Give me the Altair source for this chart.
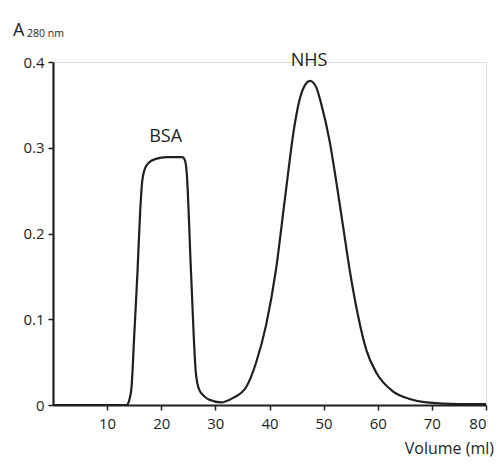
import altair as alt
import pandas as pd

volume = [0, 13.6, 14.1, 14.5, 15.0, 15.6, 16.1, 16.5, 17.0, 17.8, 19.0, 21.0, 23.0, 23.9, 24.4,
          24.7, 25.5, 26.4, 27.0, 28.0, 28.9, 31.0, 33.2, 35.7, 37.5, 39.4, 41.2, 42.8, 44.6,
          45.4, 46.3, 47.5, 48.6, 49.6, 51.1, 52.3, 53.6, 54.8, 56.4, 57.9, 59.8, 62.8, 65.9,
          69.0, 75.0, 80.0]
absorb = [0, 0, 0.006, 0.02, 0.08, 0.154, 0.225, 0.262, 0.276, 0.283, 0.287, 0.289, 0.289, 0.289, 0.285,
          0.271, 0.155, 0.037, 0.018, 0.010, 0.006, 0.003, 0.008, 0.021, 0.049, 0.094, 0.158, 0.238, 0.325,
          0.352, 0.37, 0.378, 0.371, 0.35, 0.308, 0.262, 0.208, 0.158, 0.103, 0.064, 0.037, 0.016, 0.007,
          0.003, 0.001, 0.001]

peak_names = ["BSA", "NHS"]
peak_x = [20.8, 47.3]
peak_y = [0.313, 0.401]

x_ticks = [10, 20, 30, 40, 50, 60, 70, 80]
y_ticks = [0, 0.1, 0.2, 0.3, 0.4]

FONT = "Open Sans"
INK = "#231f20"

df = pd.DataFrame({"v": volume, "a": absorb})
lab = pd.DataFrame({"name": peak_names, "v": peak_x, "a": peak_y})

xs = alt.Scale(domain=[0, 80], nice=False)
ys = alt.Scale(domain=[0, 0.4], nice=False)

line = alt.Chart(df).mark_line(color=INK, strokeWidth=2.2, interpolate="monotone").encode(
    x=alt.X("v:Q", scale=xs, axis=alt.Axis(values=x_ticks, title=None, grid=False,
                                          domainColor=INK, domainWidth=2.2, tickColor=INK,
                                          tickWidth=1.5, tickSize=5, labelFont=FONT,
                                          labelFontSize=15, labelColor=INK, labelPadding=6)),
    y=alt.Y("a:Q", scale=ys, axis=alt.Axis(values=y_ticks, title=None, grid=False,
                                          domainColor=INK, domainWidth=2.2, tickColor=INK,
                                          tickWidth=1.5, tickSize=5, labelFont=FONT,
                                          labelFontSize=15, labelColor=INK, labelPadding=4,
                                          labelExpr="datum.value == 0 ? '0' : format(datum.value, '.1f')")),
)

labels = alt.Chart(lab).mark_text(font=FONT, fontSize=18, color=INK, baseline="middle").encode(
    x=alt.X("v:Q", scale=xs), y=alt.Y("a:Q", scale=ys), text="name:N"
)

ytitle_df = pd.DataFrame({"t": ["A"]})
ytitle = alt.Chart(ytitle_df).mark_text(font=FONT, fontSize=18, color=INK, align="left",
                                        baseline="alphabetic").encode(
    x=alt.value(-40), y=alt.value(-26), text="t:N")
ysub_df = pd.DataFrame({"t": ["280 nm"]})
ysub = alt.Chart(ysub_df).mark_text(font=FONT, fontSize=10.5, color=INK, align="left",
                                    baseline="alphabetic").encode(
    x=alt.value(-26), y=alt.value(-25), text="t:N")
xtitle_df = pd.DataFrame({"t": ["Volume (ml)"]})
xtitle = alt.Chart(xtitle_df).mark_text(font=FONT, fontSize=16, color=INK, align="right",
                                        baseline="alphabetic").encode(
    x=alt.value(441), y=alt.value(392), text="t:N")

chart = alt.layer(line, labels, ytitle, ysub, xtitle).properties(
    width=433, height=343,
    autosize=alt.AutoSizeParams(type="none"),
    padding={"left": 45, "top": 54, "right": 8, "bottom": 54},
).configure_view(stroke=None).configure(background="white")

chart.save("out.html", embed_options={"renderer": "svg", "actions": False})
